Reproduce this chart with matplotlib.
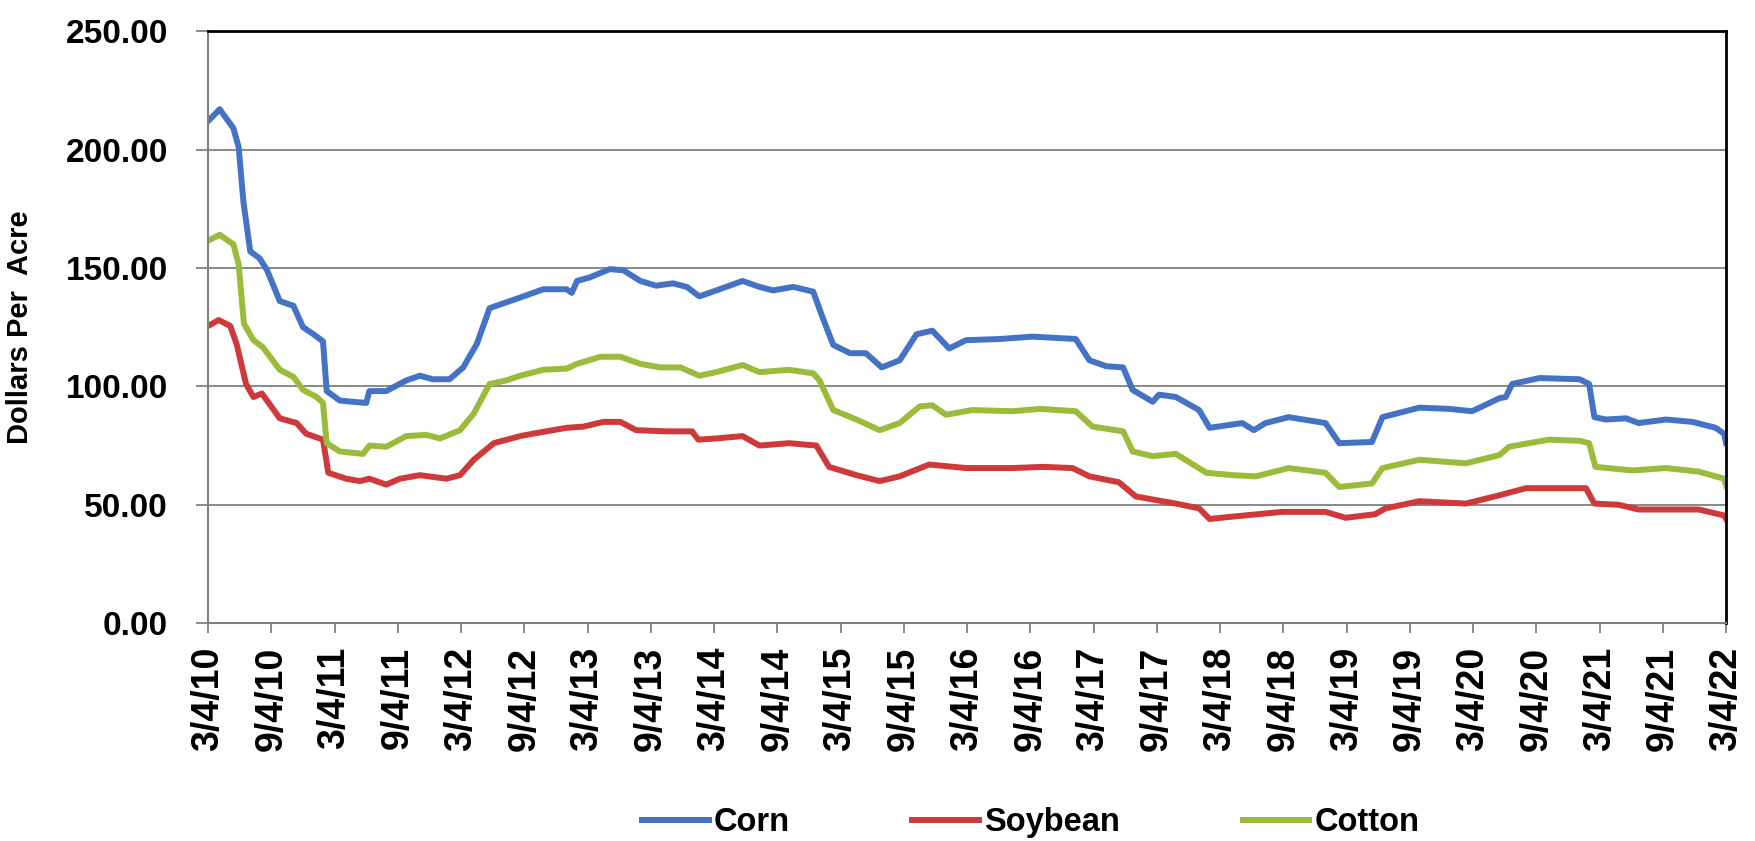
import matplotlib.pyplot as plt
import numpy as np

## Datos (meses desde 3/4/10, dolares por acre)
corn_mes = [0, 1.1, 2.4, 2.9, 3.35, 4.0, 4.9, 5.6, 6.8, 8.1, 9.0, 10.0, 10.9, 11.25, 12.5, 13.7, 15.0, 15.3,
            16.9, 18.8, 20.1, 21.3, 22.9, 24.2, 25.5, 26.7, 28.3, 29.6, 31.8, 34.0, 34.5, 35.0, 36.2, 38.1,
            39.4, 41.0, 42.5, 44.1, 45.4, 46.6, 48.2, 50.7, 52.3, 53.6, 55.5, 57.4, 58.3, 59.3, 60.9, 62.4,
            63.9, 65.6, 67.2, 68.7, 70.3, 71.9, 75.1, 78.2, 82.3, 83.6, 85.2, 86.8, 87.7, 89.6, 90.2, 91.8,
            94.0, 95.0, 98.1, 99.2, 100.3, 102.5, 106.0, 107.3, 110.4, 111.4, 114.9, 117.7, 119.9, 122.5,
            123.1, 123.7, 126.3, 130.1, 131.0, 131.5, 132.6, 134.5, 135.7, 138.3, 140.8, 143.0, 143.8, 144]
corn = [212, 217, 209, 201, 178, 157, 154, 149, 136, 134, 125, 122, 119, 98, 94, 93.5, 93, 98,
        98, 102.5, 104.5, 103, 103, 108, 118, 133, 135.5, 137.5, 141, 141, 139.5, 144.5, 146, 149.5,
        149, 144.5, 142.5, 143.5, 142, 138, 140.5, 144.5, 142, 140.5, 142, 140, 129, 117.5, 114, 114,
        108, 111, 122, 123.5, 116, 119.5, 120, 121, 120, 111, 108.5, 108, 98.5, 93.5, 96.5, 95.5,
        90, 82.5, 84.5, 81.5, 84.5, 87, 84.5, 76, 76.5, 87, 91, 90.5, 89.5, 95,
        95.5, 101, 103.5, 103, 101, 87, 86, 86.5, 84.5, 86, 85, 82.5, 80, 76]

soy_mes = [0, 1.0, 2.1, 2.7, 3.6, 4.3, 5.1, 6.8, 8.4, 9.3, 10.9, 11.4, 13.1, 14.4, 15.3, 16.9, 18.2, 20.1,
           22.6, 23.9, 25.2, 27.1, 29.6, 30.8, 34.0, 35.6, 37.5, 39.1, 40.6, 43.5, 45.9, 46.5, 48.2, 50.7,
           52.3, 55.1, 57.7, 58.9, 61.5, 63.7, 65.6, 68.4, 71.9, 76.3, 79.2, 82.0, 83.6, 86.4, 88.0, 91.8,
           94.0, 95.0, 97.2, 101.9, 106.0, 107.9, 110.7, 111.7, 114.9, 119.3, 122.5, 125.0, 130.7, 131.5,
           133.8, 135.7, 141.4, 143.8, 144]
soybean = [125.5, 128, 125.5, 118, 101, 95.5, 97, 86.5, 84.5, 80, 77.5, 63.5, 61, 60, 61, 58.5, 61, 62.5,
           61, 62.5, 69, 76, 79, 80, 82.5, 83, 85, 85, 81.5, 81, 81, 77.5, 78, 79,
           75, 76, 75, 66, 62.5, 60, 62, 67, 65.5, 65.5, 66, 65.5, 62, 59.5, 53.5, 50.5,
           48.5, 44, 45, 47, 47, 44.5, 46, 48.5, 51.5, 50.5, 54, 57, 57, 50.5,
           50, 48, 48, 45.5, 44]

cot_mes = [0, 1.1, 2.4, 2.9, 3.4, 4.3, 5.2, 6.8, 8.1, 9.0, 10.3, 10.9, 11.25, 12.5, 14.7, 15.3, 16.9, 18.8,
           20.7, 22.0, 23.9, 25.2, 26.7, 28.3, 29.6, 31.8, 34.0, 35.0, 37.2, 39.1, 41.0, 42.9, 44.8, 46.6,
           48.2, 50.7, 52.3, 55.1, 57.4, 58.0, 59.3, 61.5, 63.7, 65.6, 67.5, 68.7, 70.0, 72.5, 76.3, 78.9,
           82.3, 83.9, 86.8, 87.7, 89.6, 91.8, 94.7, 97.2, 99.4, 102.5, 106.0, 107.3, 110.4, 111.4, 114.9,
           119.3, 122.5, 123.4, 127.2, 130.1, 131.0, 131.6, 135.1, 138.3, 141.4, 143.8, 144]
cotton = [161.5, 164, 160, 151.5, 126.5, 119.5, 116.5, 107, 104, 98.5, 95.5, 93, 76, 72.5, 71.5, 75, 74.5, 79,
          79.5, 78, 81.5, 88.5, 101, 102.5, 104.5, 107, 107.5, 109.5, 112.5, 112.5, 109.5, 108, 108, 104.5,
          106, 109, 106, 107, 105.5, 102.5, 90, 86, 81.5, 84.5, 91.5, 92, 88, 90, 89.5, 90.5,
          89.5, 83, 81, 72.5, 70.5, 71.5, 63.5, 62.5, 62, 65.5, 63.5, 57.5, 59, 65.5, 69,
          67.5, 71, 74.5, 77.5, 77, 76, 66, 64.5, 65.5, 64, 61, 58]

## Etiquetas del eje x, cada 6 meses
tick_mes = list(range(0, 145, 6))
tick_lab = []
for a in range(10, 23):
    tick_lab.append("3/4/%d" % a)
    if a < 22:
        tick_lab.append("9/4/%d" % a)

plt.rcParams['font.family'] = ['Liberation Sans', 'DejaVu Sans']
plt.rcParams['font.weight'] = 'bold'

fig = plt.figure(figsize=(17.56, 8.41), dpi=100)
ax1 = fig.add_axes([0.1185, 0.259, 0.8645, 0.704])

ax1.plot(corn_mes, corn, color='#4472C4', linewidth=4.3, label='Corn', solid_joinstyle='round')
ax1.plot(soy_mes, soybean, color='#CF393B', linewidth=4.3, label='Soybean', solid_joinstyle='round')
ax1.plot(cot_mes, cotton, color='#9BBB3B', linewidth=4.3, label='Cotton', solid_joinstyle='round')

ax1.set_xlim(0, 144)
ax1.set_ylim(0, 250)
ax1.set_yticks([0, 50, 100, 150, 200, 250])
ax1.set_yticklabels(["%.2f" % v for v in [0, 50, 100, 150, 200, 250]])
ax1.set_xticks(tick_mes)
ax1.set_xticklabels(tick_lab, rotation=90)

## Lineas de la grilla
for v in [50, 100, 150, 200]:
    ax1.axhline(y=v, color='#808080', linewidth=1.3, zorder=0)

ax1.yaxis.set_tick_params(labelsize=24, width=1.3, length=9, pad=20, color='#808080')
ax1.xaxis.set_tick_params(labelsize=27, width=1.3, length=7, pad=10, color='#808080')

for axis in ['left', 'bottom']:
    ax1.spines[axis].set_linewidth(1.5)
    ax1.spines[axis].set_color('#808080')
for axis in ['top', 'right']:
    ax1.spines[axis].set_linewidth(2)
    ax1.spines[axis].set_color('black')

ax1.set_ylabel("Dollars Per  Acre", fontsize=21, fontweight='bold')
ax1.yaxis.set_label_coords(-0.1146, 0.5)

fig.legend(loc='center', bbox_to_anchor=(0.587, 0.022), ncol=3, frameon=False, fontsize=23.5,
           handlelength=2.05, handletextpad=0.15, columnspacing=3.75)

plt.savefig('out.png', dpi=100)
